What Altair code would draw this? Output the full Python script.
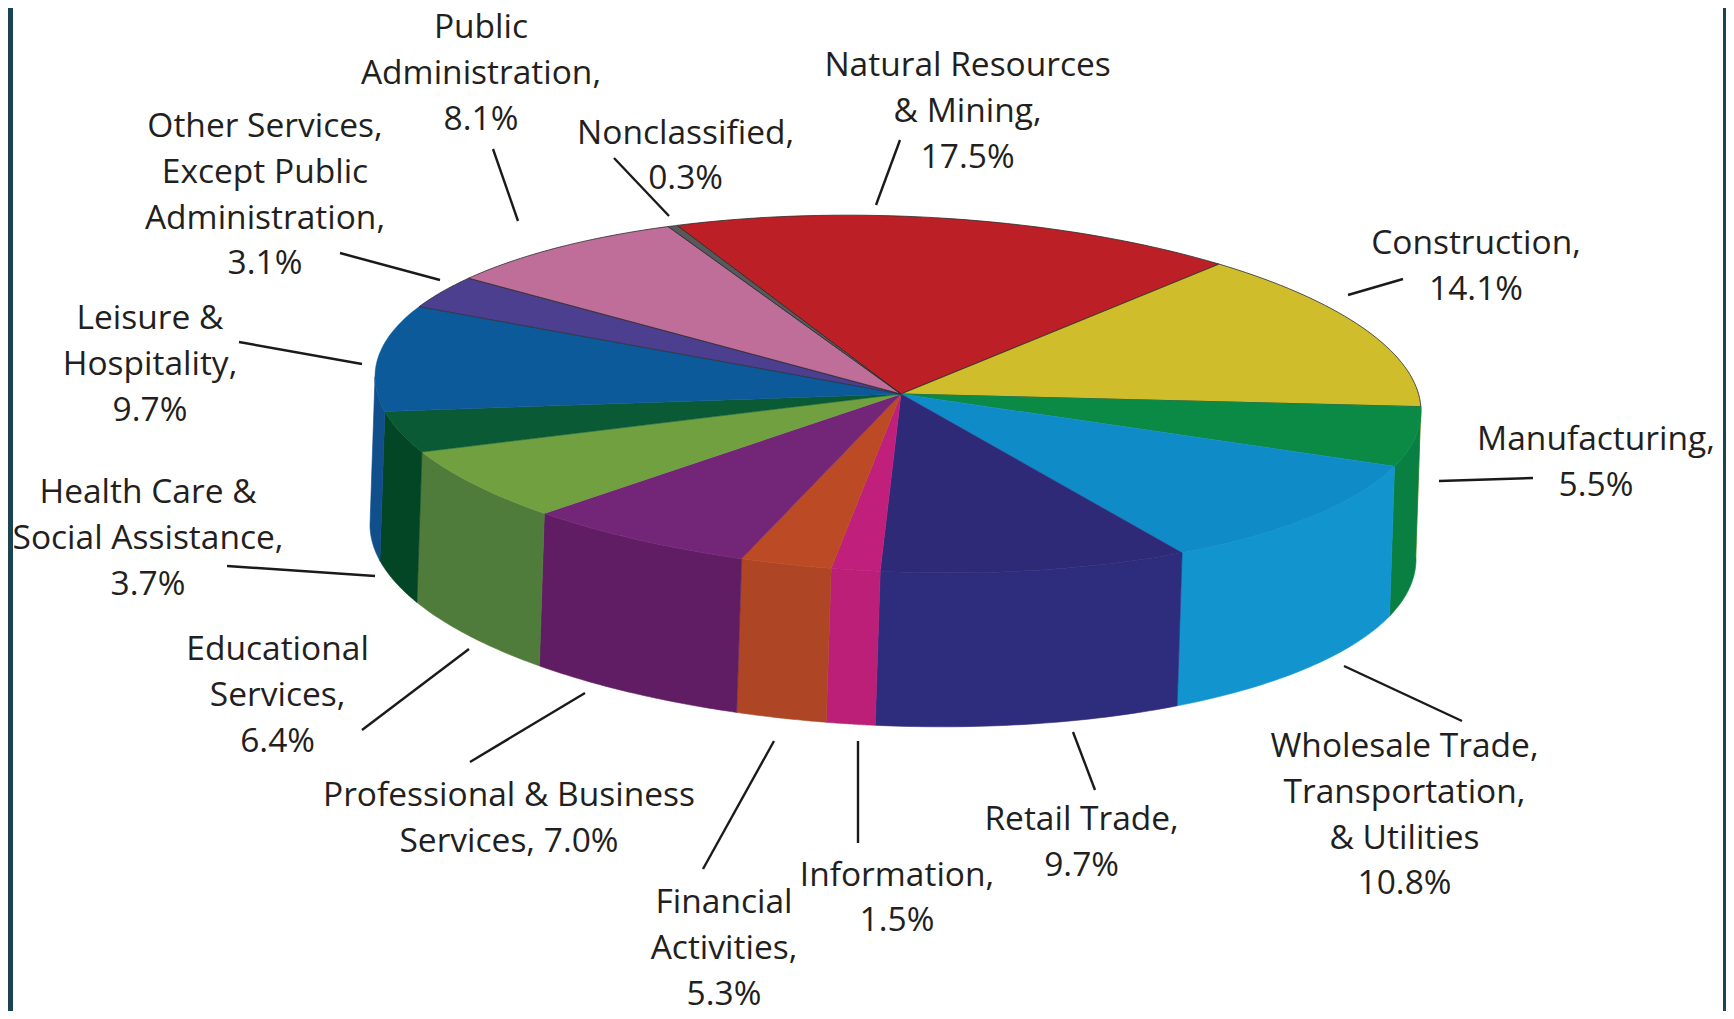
import math
import altair as alt
import numpy as np
import pandas as pd

# ---- data ----
categories = ["Natural Resources & Mining", "Construction", "Manufacturing",
              "Wholesale Trade, Transportation, & Utilities", "Retail Trade", "Information",
              "Financial Activities", "Professional & Business Services", "Educational Services",
              "Health Care & Social Assistance", "Leisure & Hospitality",
              "Other Services, Except Public Administration", "Public Administration", "Nonclassified"]
labelled_pct = [17.5, 14.1, 5.5, 10.8, 9.7, 1.5, 5.3, 7.0, 6.4, 3.7, 9.7, 3.1, 8.1, 0.3]
# size of each slice as drawn (Financial Activities is printed 5.3% but drawn near 2.8%)
drawn_pct = [17.5, 14.1, 5.5, 10.8, 9.7, 1.5, 2.8, 7.0, 6.4, 3.7, 9.7, 3.1, 8.1, 0.3]
top_colors = ["#BC2026", "#CFBD2C", "#0B8A45", "#0F8CC8", "#2F2A78", "#C01F7C", "#BC4A24",
              "#732677", "#70A040", "#0A5A35", "#0D5A9A", "#4D3F8F", "#BF6E9A", "#58595B"]
wall_colors = ["#BC2026", "#CFBD2C", "#0A7F42", "#1295CF", "#2E2C7C", "#BC1F78", "#AE4625",
               "#611D63", "#4F7C3A", "#034626", "#104E8C", "#4D3F8F", "#BF6E9A", "#58595B"]
outlined = [True, True, False, False, False, False, False, False, False, False, False, True, True, True]

label_texts = ["Natural Resources\n& Mining,\n17.5%", "Construction,\n14.1%", "Manufacturing,\n5.5%",
               "Wholesale Trade,\nTransportation,\n& Utilities\n10.8%", "Retail Trade,\n9.7%",
               "Information,\n1.5%", "Financial\nActivities,\n5.3%",
               "Professional & Business\nServices, 7.0%", "Educational\nServices,\n6.4%",
               "Health Care &\nSocial Assistance,\n3.7%", "Leisure &\nHospitality,\n9.7%",
               "Other Services,\nExcept Public\nAdministration,\n3.1%", "Public\nAdministration,\n8.1%",
               "Nonclassified,\n0.3%"]

# ---- layout (page pixels) ----
W, H = 1726, 1011
M = 8
label_x = [967.6, 1476, 1596, 1404.5, 1081.6, 897, 724, 509, 277.6, 148, 150, 265, 481, 685.6]
label_y = [66, 244, 440, 747, 820, 875.6, 903, 796, 650, 493, 319, 127, 28.4, 133.5]
leader_x1 = [900, 1403, 1533, 1344, 1073, 858, 703, 470, 362, 227, 239, 340, 493, 614]
leader_y1 = [140, 279, 478, 666, 732, 741, 869, 762, 730, 566, 342, 253, 149, 158]
leader_x2 = [876, 1348, 1439, 1462, 1095, 858, 774, 585, 469, 375, 362, 440, 518, 669]
leader_y2 = [205, 295, 481, 721, 790, 843, 741, 693, 649, 576, 364, 280, 221, 216]

CX, CY, RX = 898.0, 394.0, 523.0
RY_TOP, RY_BOT = 178.0, 184.0
SHEAR = 0.033
DX, DY = -5.0, 148.0
HUB = (901.0, 394.0)
START = 115.0
WALL_HI, WALL_LO = 2.0, -180.0


def top_pt(deg):
    t = math.radians(deg)
    x = RX * math.cos(t)
    return [CX + x, CY - RY_TOP * math.sin(t) + SHEAR * x]


def bot_pt(deg):
    t = math.radians(deg)
    x = RX * math.cos(t)
    return [CX + DX + x, CY + DY - RY_BOT * math.sin(t) + SHEAR * x]


def feature(ring, fill, stroke, width):
    return {"type": "Feature",
            "properties": {"fill": fill, "stroke": stroke, "sw": width},
            "geometry": {"type": "Polygon", "coordinates": [ring + [ring[0]]]}}


total = sum(drawn_pct)
edges = [START]
for v in drawn_pct:
    edges.append(edges[-1] - v / total * 360.0)

features = [feature([[M, M], [W, M], [W, H], [M, H]], "#ffffff", "#ffffff", 0)]
for i in range(len(categories)):
    hi = min(edges[i], WALL_HI)
    lo = max(edges[i + 1], WALL_LO)
    if hi > lo:
        ts = np.linspace(hi, lo, 40).tolist()
        ring = [top_pt(t) for t in ts] + [bot_pt(t) for t in reversed(ts)]
        features.append(feature(ring, wall_colors[i], wall_colors[i], 0.6))
for i in range(len(categories)):
    ts = np.linspace(edges[i], edges[i + 1], 40).tolist()
    ring = [list(HUB)] + [top_pt(t) for t in ts]
    if outlined[i]:
        features.append(feature(ring, top_colors[i], "#2b2b2b", 0.8))
    else:
        features.append(feature(ring, top_colors[i], top_colors[i], 0.5))

pie = alt.Chart(alt.Data(values=features)).mark_geoshape().encode(
    fill=alt.Fill("properties.fill:N", scale=None),
    stroke=alt.Stroke("properties.stroke:N", scale=None),
    strokeWidth=alt.StrokeWidth("properties.sw:Q", scale=None),
).project(type="identity")

x_scale = alt.Scale(domain=[M, W], range=[0, W - M], nice=False, zero=False)
y_scale = alt.Scale(domain=[M, H], range=[0, H - M], nice=False, zero=False)
px = alt.X("x:Q", scale=x_scale, axis=None)
py = alt.Y("y:Q", scale=y_scale, axis=None)

leaders_df = pd.DataFrame({"x": leader_x1, "y": leader_y1, "x2": leader_x2, "y2": leader_y2})
leaders = alt.Chart(leaders_df).mark_rule(color="#1a1a1a", strokeWidth=2.4).encode(
    x=px, y=py, x2="x2:Q", y2="y2:Q")

labels_df = pd.DataFrame({"x": label_x, "y": label_y, "t": label_texts})
labels = alt.Chart(labels_df).mark_text(
    font="Open Sans", fontSize=33.5, color="#231f20", align="center", baseline="middle",
    lineBreak="\n", lineHeight=45.8).encode(x=px, y=py, text="t:N")

bands_df = pd.DataFrame({"x": [M, 1723], "x2": [13, W], "y": [M, M], "y2": [H, H]})
bands = alt.Chart(bands_df).mark_rect(color="#1b4453").encode(x=px, x2="x2:Q", y=py, y2="y2:Q")

chart = alt.layer(pie, leaders, labels, bands).resolve_scale(x="shared", y="shared").properties(
    width=W - M, height=H - M, padding=0, background="#ffffff",
    autosize=alt.AutoSizeParams(type="none"),
).configure_view(stroke=None)

chart.save("out.html", embed_options={"renderer": "svg", "actions": False})
